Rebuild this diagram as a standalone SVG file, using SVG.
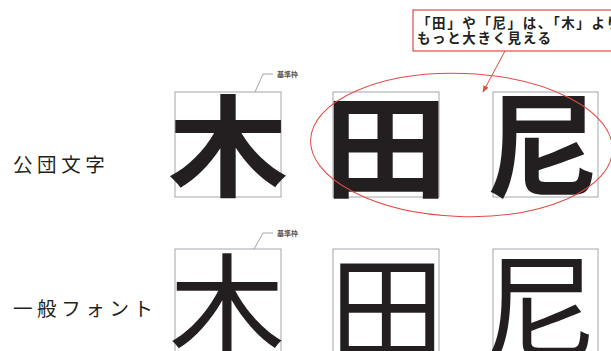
<svg xmlns="http://www.w3.org/2000/svg" width="611" height="351" viewBox="0 0 611 351">
<style>
.lbl{font-family:"Noto Sans CJK JP","Noto Sans CJK SC",sans-serif;font-size:19.5px;fill:#231f20;letter-spacing:4.6px}
.frame{fill:none;stroke:#a3a6ab;stroke-width:1}
.lead{fill:none;stroke:#8a8d92;stroke-width:0.8}
.tiny{font-family:"Noto Sans CJK JP",sans-serif;font-size:7px;font-weight:700;fill:#555}
.big1{font-family:"Noto Sans CJK JP",sans-serif;font-weight:700;font-size:100px;fill:#231f20;text-anchor:middle}
.big2{font-family:"Noto Sans CJK JP",sans-serif;font-weight:400;font-size:116px;fill:#231f20;text-anchor:middle}
.red{fill:none;stroke:#e24a45;stroke-width:1}
.note{font-family:"Noto Sans CJK JP",sans-serif;font-size:13.5px;font-weight:700;fill:#231f20;letter-spacing:1.6px}
</style>
<defs>
<marker id="ah" viewBox="0 0 10 10" refX="9" refY="5" markerWidth="7" markerHeight="7" orient="auto" markerUnits="userSpaceOnUse"><path d="M0,1 L10,5 L0,9 Z" fill="#e24a45"/></marker>
</defs>
<rect width="611" height="351" fill="#fff"/>
<g id="label-top"><text class="lbl" x="13" y="172">公団文字</text></g>
<g id="label-bottom"><text class="lbl" x="13" y="316">一般フォント</text></g>

<g id="top-ki">
<rect class="frame" x="175" y="92" width="106" height="105"/>
<text class="big1" transform="translate(228,187.7) scale(1.2,1.1)">木</text>
</g>
<g id="top-ta">
<rect class="frame" x="333" y="92" width="106" height="105"/>
<text class="big1" transform="translate(386,188.8) scale(1.25,1.13)">田</text>
</g>
<g id="top-ni">
<rect class="frame" x="493" y="92" width="105" height="105"/>
<text class="big1" transform="translate(542.5,187.8) scale(1.14,1.14)">尼</text>
</g>
<g id="top-ref">
<path class="lead" d="M255,92 L263,74 L273,74"/>
<text class="tiny" x="277" y="77">基準枠</text>
</g>

<g id="bot-ki">
<rect class="frame" x="175" y="249" width="106" height="110"/>
<text class="big2" x="227" y="351">木</text>
</g>
<g id="bot-ta">
<rect class="frame" x="333" y="249" width="106" height="110"/>
<text class="big2" x="387" y="353">田</text>
</g>
<g id="bot-ni">
<rect class="frame" x="493" y="249" width="105" height="110"/>
<text class="big2" x="540" y="351">尼</text>
</g>
<g id="bot-ref">
<path class="lead" d="M254,249 L263,233 L273,233"/>
<text class="tiny" x="277" y="236">基準枠</text>
</g>

<g id="callout">
<rect x="413" y="10" width="210" height="41" fill="#fff" stroke="#e24a45" stroke-width="1.2"/>
<text class="note" x="417" y="28">「田」や「尼」は、「木」より</text>
<text class="note" x="417" y="43">もっと大きく見える</text>
</g>
<g id="connectors">
<ellipse class="red" cx="461.5" cy="145" rx="151" ry="71.5" transform="rotate(2 461.5 145)"/>
<path d="M505,51 L483,92" stroke="#e24a45" stroke-width="1" marker-end="url(#ah)"/>
</g>
</svg>
